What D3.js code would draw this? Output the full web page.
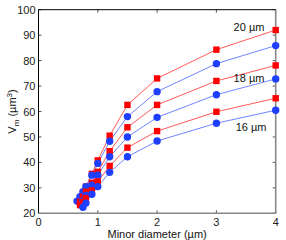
<!DOCTYPE html>
<html><head><meta charset="utf-8">
<script src="https://cdn.jsdelivr.net/npm/d3@7"></script>
<style>body{margin:0;background:#fff}svg{display:block}text{font-family:"Liberation Sans",Arial,sans-serif;}</style>
</head><body><svg id="c" width="286" height="240"></svg>
<script>
const xTicks = [0, 1, 2, 3, 4];
const yTicks = [20, 30, 40, 50, 60, 70, 80, 90, 100];

const red20X = [0.7, 0.75, 0.8, 0.9, 1.0, 1.2, 1.5, 2, 3, 4];
const red20Y = [26.0, 28.0, 30.5, 35.5, 40.8, 50.5, 62.6, 73.0, 84.3, 92.0];
const blue20X = [0.65, 0.7, 0.75, 0.8, 0.9, 1.0, 1.2, 1.5, 2, 3, 4];
const blue20Y = [24.8, 26.5, 28.5, 30.5, 35.0, 39.6, 48.3, 58.0, 67.8, 78.8, 85.9];
const red18X = [0.7, 0.75, 0.8, 0.9, 1.0, 1.2, 1.5, 2, 3, 4];
const red18Y = [24.5, 26.5, 28.5, 32.0, 36.3, 44.4, 53.8, 62.6, 72.0, 78.1];
const blue18X = [0.72, 0.75, 0.8, 0.9, 1.0, 1.2, 1.5, 2, 3, 4];
const blue18Y = [23.3, 25.0, 27.0, 31.0, 35.0, 42.2, 50.0, 57.7, 66.6, 72.8];
const red16X = [0.7, 0.75, 0.8, 0.9, 1.0, 1.2, 1.5, 2, 3, 4];
const red16Y = [23.2, 24.5, 26.0, 29.0, 32.5, 38.6, 45.8, 52.3, 59.9, 65.2];
const blue16X = [0.75, 0.8, 0.9, 1.0, 1.2, 1.5, 2, 3, 4];
const blue16Y = [22.4, 24.0, 27.5, 30.5, 36.1, 42.2, 48.4, 55.4, 60.5];

const labels = [{t: "20 µm", x: 3.29, y: 91.8}, {t: "18 µm", x: 3.29, y: 71.4}, {t: "16 µm", x: 3.325, y: 52.3}];

const series = [
  {x: red20X, y: red20Y, type: "sq"},
  {x: blue20X, y: blue20Y, type: "ci"},
  {x: red18X, y: red18Y, type: "sq"},
  {x: blue18X, y: blue18Y, type: "ci"},
  {x: red16X, y: red16Y, type: "sq"},
  {x: blue16X, y: blue16Y, type: "ci"}
];

const L = 38.5, R = 275.7, T = 9.7, B = 213.3;
const x = d3.scaleLinear().domain([0, 4]).range([L, R]);
const y = d3.scaleLinear().domain([20, 100]).range([B, T]);
const svg = d3.select("#c");

// ticks (inward) on all four sides
const tk = 3;
const g = svg.append("g").attr("stroke", "#555").attr("stroke-width", 1);
xTicks.forEach(v => {
  g.append("line").attr("x1", x(v)).attr("x2", x(v)).attr("y1", B).attr("y2", B - tk);
  g.append("line").attr("x1", x(v)).attr("x2", x(v)).attr("y1", T).attr("y2", T + tk);
});
yTicks.forEach(v => {
  g.append("line").attr("x1", L).attr("x2", L + tk).attr("y1", y(v)).attr("y2", y(v));
  g.append("line").attr("x1", R).attr("x2", R - tk).attr("y1", y(v)).attr("y2", y(v));
});

// tick labels
svg.append("g").selectAll("text").data(yTicks).join("text")
  .attr("x", L - 3).attr("y", d => y(d) + 4)
  .attr("text-anchor", "end").attr("font-size", 11).attr("fill", "#222").text(d => d);
svg.append("g").selectAll("text").data(xTicks).join("text")
  .attr("x", d => x(d)).attr("y", B + 12.5)
  .attr("text-anchor", "middle").attr("font-size", 11).attr("fill", "#222").text(d => d);

// lines
const line = d3.line().x(d => x(d[0])).y(d => y(d[1]));
series.forEach(s => {
  const pts = s.x.map((v, i) => [v, s.y[i]]);
  svg.append("path").attr("d", line(pts)).attr("fill", "none")
    .attr("stroke", s.type === "sq" ? "#ff5a5a" : "#6f86ff").attr("stroke-width", 1);
});

// axes box
svg.append("line").attr("x1", L).attr("x2", L).attr("y1", T).attr("y2", B).attr("stroke", "#000").attr("stroke-width", 1);
svg.append("line").attr("x1", L).attr("x2", R).attr("y1", T).attr("y2", T).attr("stroke", "#000").attr("stroke-width", 1);
svg.append("line").attr("x1", L).attr("x2", R).attr("y1", B).attr("y2", B).attr("stroke", "#888").attr("stroke-width", 1.6);
svg.append("line").attr("x1", R).attr("x2", R).attr("y1", T).attr("y2", B).attr("stroke", "#888").attr("stroke-width", 1.6);

// markers
series.forEach(s => {
  const pts = s.x.map((v, i) => [v, s.y[i]]);
  if (s.type === "sq") {
    svg.append("g").selectAll("rect").data(pts).join("rect")
      .attr("x", d => x(d[0]) - 3.2).attr("y", d => y(d[1]) - 3.2)
      .attr("width", 6.4).attr("height", 6.4).attr("fill", "#ff0000");
  } else {
    svg.append("g").selectAll("circle").data(pts).join("circle")
      .attr("cx", d => x(d[0])).attr("cy", d => y(d[1])).attr("r", 3.7).attr("fill", "#1f3fff");
  }
});

// annotations
labels.forEach(l => {
  svg.append("text").attr("x", x(l.x)).attr("y", y(l.y)).attr("font-size", 11)
    .attr("fill", "#111").text(l.t);
});

// axis titles
svg.append("text").attr("x", (L + R) / 2).attr("y", 237.5).attr("text-anchor", "middle")
  .attr("font-size", 11).attr("fill", "#111").text("Minor diameter (µm)");
const yl = svg.append("text").attr("transform", `translate(16,${(T + B) / 2}) rotate(-90)`)
  .attr("text-anchor", "middle").attr("font-size", 11).attr("fill", "#111");
yl.append("tspan").text("V");
yl.append("tspan").attr("font-size", 8).attr("dy", 3).text("m");
yl.append("tspan").attr("dy", -3).text(" (µm");
yl.append("tspan").attr("font-size", 8).attr("dy", -4).text("3");
yl.append("tspan").attr("dy", 4).text(")");
</script></body></html>
